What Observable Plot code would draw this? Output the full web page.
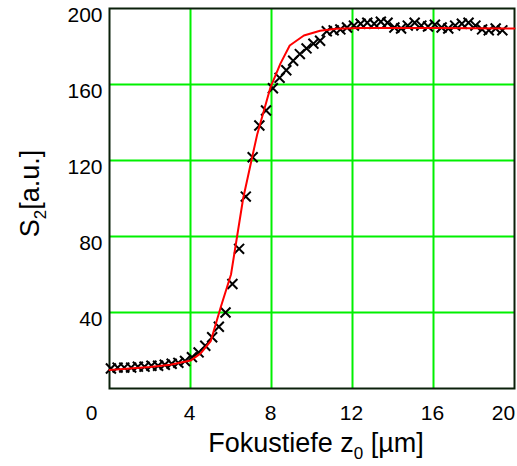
<!DOCTYPE html>
<html><head><meta charset="utf-8">
<script src="https://cdn.jsdelivr.net/npm/d3@7"></script>
<script src="https://cdn.jsdelivr.net/npm/@observablehq/plot@0.6"></script>
<style>body{margin:0;background:#fff} svg{display:block}</style>
</head><body><div id="chart"></div>
<script>
// measured data (crosses)
const depth = [0.07, 0.4, 0.73, 1.07, 1.4, 1.73, 2.07, 2.4, 2.73, 3.07, 3.4, 3.73, 4.07, 4.4, 4.73,
  5.07, 5.4, 5.73, 6.07, 6.4, 6.73, 7.07, 7.4, 7.73, 8.07, 8.4, 8.73, 9.07, 9.4, 9.73,
  10.07, 10.4, 10.73, 11.07, 11.4, 11.73, 12.07, 12.4, 12.73, 13.07, 13.4, 13.73, 14.07, 14.4, 14.73,
  15.07, 15.4, 15.73, 16.07, 16.4, 16.73, 17.07, 17.4, 17.73, 18.07, 18.4, 18.73, 19.07, 19.4];
const signal = [10.5, 11, 11, 11, 11.5, 11.5, 12, 12, 12.5, 13, 13.5, 14.5, 16.5, 19, 22.5,
  27, 32.5, 40, 55, 73.5, 101, 121.7, 138.4, 146.3, 158, 163.5, 167.5, 172.5, 176, 179,
  181.5, 183, 188, 188.5, 189, 190, 191, 192, 192.5, 192, 193, 192.5, 190, 189.5, 191,
  192.5, 191, 190.5, 191.5, 190, 189.5, 191, 192, 192.5, 191, 189, 188.5, 189.5, 188.5];
// fitted curve (red)
const fitX = [0, 1, 2, 3, 4, 4.5, 5, 5.5, 6, 6.3, 6.6, 7.05, 7.3, 7.62, 7.95, 8.44, 8.9, 9.6, 10.4, 11.2, 12.4, 14, 16, 18, 20];
const fitY = [9.8, 10.5, 11.3, 12.5, 14.7, 18.5, 25, 43, 60, 80, 100, 122, 134, 146, 158.5, 171, 180.5, 185.8, 188.3, 189.3, 189.7, 189.8, 189.8, 189.6, 189.5];
// tick labels
const xTicks = [4, 8, 12, 16];
const xTickFirst = [0];
const xTickLast = [20];
const yTicks = [40, 80, 120, 160, 200];
const yGrid = [40, 80, 120, 160];
const xTitle = "Fokustiefe z0 [µm]";
const yTitle = "S2[a.u.]";

const points = depth.map((d, i) => ({x: d, y: signal[i]}));
const fit = fitX.map((d, i) => ({x: d, y: fitY[i]}));

const plot = Plot.plot({
  width: 517, height: 466,
  marginLeft: 109, marginRight: 3, marginTop: 8, marginBottom: 78,
  style: {fontFamily: "'Liberation Sans', Arial, sans-serif", fontSize: "21px", background: "#fff", color: "#000"},
  x: {domain: [0, 20], axis: null},
  y: {domain: [0, 200], axis: null},
  marks: [
    Plot.gridX(xTicks, {stroke: "#00f000", strokeOpacity: 1, strokeWidth: 2}),
    Plot.gridY(yGrid, {stroke: "#00f000", strokeOpacity: 1, strokeWidth: 2}),
    Plot.frame({stroke: "#0a200a", strokeWidth: 2}),
    Plot.dot(points, {x: "x", y: "y", symbol: "times", r: 4.6, stroke: "#000", strokeWidth: 2}),
    Plot.line(fit, {x: "x", y: "y", stroke: "#ff0000", strokeWidth: 2}),
    Plot.text(xTicks, {x: d => d, text: d => String(d), frameAnchor: "bottom", dy: 25, dx: -1, lineAnchor: "middle", fill: "#000"}),
    Plot.text(xTickFirst, {x: d => d, text: d => String(d), frameAnchor: "bottom", dy: 25, dx: -18, lineAnchor: "middle", fill: "#000"}),
    Plot.text(xTickLast, {x: d => d, text: d => String(d), frameAnchor: "bottom", dy: 25, dx: -11, lineAnchor: "middle", fill: "#000"}),
    Plot.text(yTicks, {y: d => d, text: d => String(d), frameAnchor: "left", dx: -7, dy: 7, textAnchor: "end", lineAnchor: "middle", fill: "#000"}),
    Plot.text([xTitle], {text: d => d, frameAnchor: "bottom", textAnchor: "middle", dy: 55, dx: 4, fontSize: 27, lineAnchor: "middle", fill: "#000"}),
    Plot.text([yTitle], {text: d => d, frameAnchor: "left", textAnchor: "middle", rotate: -90, dx: -79, dy: -5, fontSize: 27, lineAnchor: "middle", fill: "#000"})
  ]
});

// subscripts
d3.select(plot).selectAll("text").each(function() {
  const t = this.textContent;
  let parts = null;
  if (t === xTitle) parts = ["Fokustiefe z", "0", " [µm]"];
  else if (t === yTitle) parts = ["S", "2", "[a.u.]"];
  if (!parts) return;
  const el = d3.select(this);
  el.text(null);
  el.append("tspan").text(parts[0]);
  el.append("tspan").attr("dy", 7).attr("font-size", 17).text(parts[1]);
  el.append("tspan").attr("dy", -7).text(parts[2]);
});

document.getElementById("chart").appendChild(plot);
</script>
</body></html>
